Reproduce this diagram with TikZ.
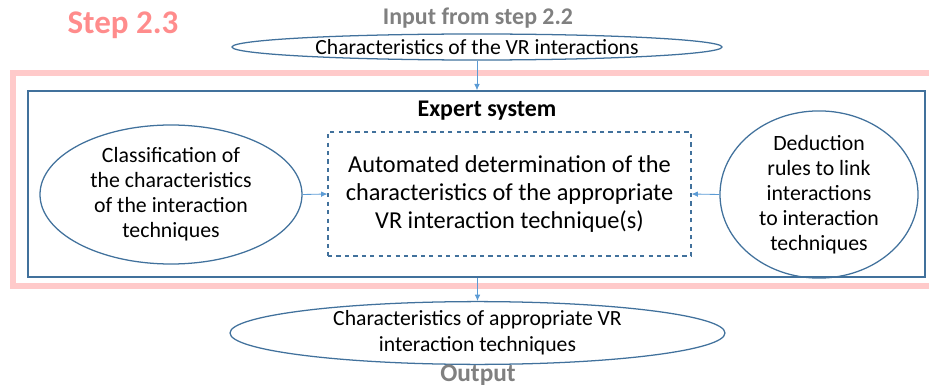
\documentclass[tikz,border=0pt]{standalone}
\usepackage{fontspec}
\setmainfont{Carlito}
\usetikzlibrary{arrows.meta, shapes.geometric}

\definecolor{outl}{HTML}{41719C}
\definecolor{arrc}{HTML}{5B9BD5}
\definecolor{pinkfr}{HTML}{FFCACA}
\definecolor{steptx}{HTML}{FF8C8C}

\begin{document}
\begin{tikzpicture}[x=0.025cm, y=-0.025cm,
  ell/.style={draw=outl, line width=0.9pt, ellipse, inner sep=0pt, align=center},
  arr/.style={draw=arrc, line width=0.6pt, -{Latex[length=4.5pt, width=4pt]}},
  ttl/.style={font=\bfseries\fontsize{17}{20}\selectfont, text=gray}]

  \def\pxu{0.025cm}

  \useasboundingbox (0,0) rectangle (929,387);

  % Headings
  \node[font=\bfseries\fontsize{23.5}{28}\selectfont, text=steptx] (step) at (123,25) {Step 2.3};
  \node[ttl] (inp) at (478,18) {Input from step 2.2};

  % Input ellipse
  \node[ell, minimum width=490*\pxu, minimum height=26*\pxu, font=\fontsize{15.4}{18}\selectfont] (in) at (477,47)
    {Characteristics of the VR interactions};

  % Frame of step 2.3 (runs past the right edge) and expert system box
  \node[draw=pinkfr, line width=4.25pt, minimum width=922*\pxu, minimum height=213*\pxu, inner sep=0pt] (frame) at (474,179.3) {};
  \node[draw=outl, line width=1pt, minimum width=897*\pxu, minimum height=186*\pxu, inner sep=0pt] (exp) at (476.5,184) {};
  \node[font=\bfseries\fontsize{17}{20}\selectfont] (expt) at (487,111) {Expert system};

  % Inner parts
  \node[draw=outl, dashed, line width=0.8pt, minimum width=363*\pxu, minimum height=124*\pxu, inner sep=0pt,
        align=center, font=\fontsize{17.3}{19.8}\selectfont] (auto) at (509.5,194)
    {Automated determination of the\\characteristics of the appropriate\\VR interaction technique(s)};
  \node[ell, minimum width=262*\pxu, minimum height=139*\pxu, font=\fontsize{15.5}{17.7}\selectfont] (cls) at (171,194.5)
    {Classification of\\the characteristics\\of the interaction\\techniques};
  \node[ell, minimum width=198*\pxu, minimum height=139*\pxu, font=\fontsize{15.5}{17.7}\selectfont] (ded) at (819,194.5)
    {Deduction\\rules to link\\interactions\\to interaction\\techniques};

  % Output ellipse
  \node[ell, minimum width=495*\pxu, minimum height=57*\pxu, font=\fontsize{15.4}{18.4}\selectfont] (out) at (477.5,333)
    {Characteristics of appropriate VR\\interaction techniques};
  \node[ttl, font=\bfseries\fontsize{18}{21}\selectfont] (outt) at (478,375) {Output};

  % Connectors
  \draw[arr] (in.south) -- (in.south |- exp.north);
  \draw[arr] (cls.east) -- (auto.west);
  \draw[arr] (ded.west) -- (auto.east);
  \draw[arr] (exp.south -| out.north) -- (out.north);

\end{tikzpicture}
\end{document}
